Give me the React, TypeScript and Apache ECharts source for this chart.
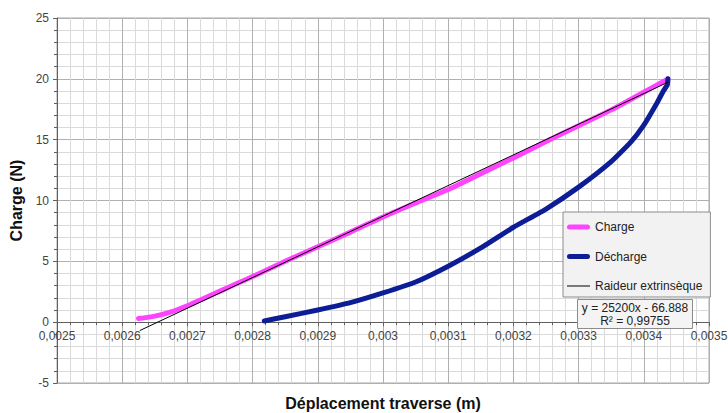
import React, { useEffect, useRef } from "react";
import * as echarts from "echarts";

// Charge (loading) curve: [displacement (m), load (N)]
const chargeX = [0.002625, 0.00265, 0.002675, 0.0027, 0.002725, 0.00275, 0.002775, 0.0028, 0.00285, 0.0029, 0.00295, 0.003, 0.00305, 0.0031, 0.00315, 0.0032, 0.00325, 0.0033, 0.00335, 0.0034, 0.003437];
const chargeY = [0.3, 0.5, 0.85, 1.35, 1.95, 2.55, 3.15, 3.75, 5.0, 6.2, 7.4, 8.65, 9.8, 10.9, 12.2, 13.5, 14.85, 16.15, 17.45, 18.9, 20.0];

// Décharge (unloading) curve
const dechargeX = [0.002818, 0.00285, 0.0029, 0.00295, 0.003, 0.00305, 0.0031, 0.00315, 0.0032, 0.00325, 0.0033, 0.00335, 0.00338, 0.0034, 0.00342, 0.00343, 0.003436, 0.003437];
const dechargeY = [0.1, 0.45, 1.0, 1.6, 2.4, 3.3, 4.6, 6.1, 7.8, 9.3, 11.1, 13.2, 14.8, 16.2, 18.0, 19.0, 19.5, 20.0];

// Raideur extrinsèque (linear trend) endpoints
const trendX = [0.002627, 0.003437];
const trendY = [-0.69, 19.72];

const equationLines = ["y = 25200x - 66.888", "R² = 0,99755"];
const seriesNames = ["Charge", "Décharge", "Raideur extrinsèque"];

const FONT = "Liberation Sans, Arial, sans-serif";

const zip = (xs: number[], ys: number[]) => xs.map((x, i) => [x, ys[i]]);

const THICK_ICON = "path://M2.5,0 H20.5 A2.5,2.5 0 0 1 20.5,5 H2.5 A2.5,2.5 0 0 1 2.5,0 Z";
const THIN_ICON = "path://M0,0 H23 V1 H0 Z";

export default function App() {
  const ref = useRef<HTMLDivElement>(null);
  useEffect(() => {
    document.body.style.margin = "0";
    if (!ref.current) return;
    const chart = echarts.init(ref.current, null, { renderer: "svg" });
    const gridT = 18, gridB = 30, plotH = 413 - gridT - gridB;
    const yMin = -5, yMax = 25;
    const zeroOffset = -(plotH * (0 - yMin)) / (yMax - yMin);
    chart.setOption({
      animation: false,
      backgroundColor: "#ffffff",
      textStyle: { fontFamily: FONT },
      grid: {
        left: 57, top: gridT, right: 19, bottom: gridB,
        containLabel: false,
        outerBoundsMode: "none",
        show: true, borderColor: "#a6a6a6", borderWidth: 1, backgroundColor: "transparent",
      },
      xAxis: {
        type: "value",
        min: 0.0025, max: 0.0035, interval: 0.0001,
        position: "bottom",
        offset: zeroOffset,
        name: "Déplacement traverse (m)",
        nameLocation: "middle",
        nameGap: 73,
        nameTextStyle: { fontFamily: FONT, fontSize: 16, fontWeight: "bold", color: "#111" },
        axisLine: { show: true, onZero: false, lineStyle: { color: "#606060", width: 1 } },
        axisTick: { show: true, length: 4, lineStyle: { color: "#606060" } },
        minorTick: { show: true, splitNumber: 5, length: 3, lineStyle: { color: "#606060" } },
        axisLabel: {
          fontFamily: FONT, fontSize: 12, color: "#444", margin: 8,
          formatter: (v: number) => String(Number(v.toFixed(6))).replace(".", ","),
        },
        splitLine: { show: true, lineStyle: { color: "#b0b0b0", width: 1 } },
        minorSplitLine: { show: true, lineStyle: { color: "#dadada", width: 1 } },
      },
      yAxis: {
        type: "value",
        min: yMin, max: yMax, interval: 5,
        name: "Charge (N)",
        nameLocation: "middle",
        nameGap: 30,
        nameTextStyle: { fontFamily: FONT, fontSize: 16, fontWeight: "bold", color: "#111" },
        axisLine: { show: true, onZero: false, lineStyle: { color: "#606060", width: 1 } },
        axisTick: { show: true, length: 4, lineStyle: { color: "#606060" } },
        minorTick: { show: true, splitNumber: 5, length: 3, lineStyle: { color: "#606060" } },
        axisLabel: { fontFamily: FONT, fontSize: 12, color: "#444", margin: 8 },
        splitLine: { show: true, lineStyle: { color: "#b0b0b0", width: 1 } },
        minorSplitLine: { show: true, lineStyle: { color: "#dadada", width: 1 } },
      },
      legend: {
        orient: "vertical",
        left: 563, top: 212,
        width: 140,
        backgroundColor: "#f2f2f2",
        borderColor: "#8c8c8c",
        borderWidth: 1,
        padding: [9, 8, 5, 4],
        itemGap: 17.5,
        itemWidth: 23,
        itemHeight: 14,
        textStyle: { fontFamily: FONT, fontSize: 12, color: "#222" },
        data: [
          { name: seriesNames[0], icon: THICK_ICON },
          { name: seriesNames[1], icon: THICK_ICON },
          { name: seriesNames[2], icon: THIN_ICON },
        ],
      },
      series: [
        {
          name: seriesNames[0], type: "line", data: zip(chargeX, chargeY),
          showSymbol: false, symbol: "none", smooth: 0.25,
          lineStyle: { color: "#ff44ff", width: 5, cap: "round", join: "round" }, itemStyle: { color: "#ff44ff" },
          z: 2,
        },
        {
          name: seriesNames[1], type: "line", data: zip(dechargeX, dechargeY),
          showSymbol: false, symbol: "none", smooth: 0.15,
          lineStyle: { color: "#0d1d95", width: 5, cap: "round", join: "round" }, itemStyle: { color: "#0d1d95" },
          z: 3,
        },
        {
          name: seriesNames[2], type: "line", data: zip(trendX, trendY),
          showSymbol: false, symbol: "none",
          lineStyle: { color: "#000000", width: 1 }, itemStyle: { color: "#000000" },
          z: 4,
        },
      ],
      graphic: [
        {
          type: "group", left: 577, top: 299, z: 100, zlevel: 1,
          children: [
            { type: "rect", z: 100, zlevel: 1, shape: { x: 0, y: 0, width: 115, height: 29 }, style: { fill: "#f4f4f4", stroke: "#8c8c8c", lineWidth: 1 } },
            { type: "text", z: 101, zlevel: 1, x: 57.5, y: 8, style: { text: equationLines[0], font: `12px ${FONT}`, fill: "#222", textAlign: "center", textVerticalAlign: "middle" } },
            { type: "text", z: 101, zlevel: 1, x: 57.5, y: 21, style: { text: equationLines[1], font: `12px ${FONT}`, fill: "#222", textAlign: "center", textVerticalAlign: "middle" } },
          ],
        },
      ],
    });
    return () => chart.dispose();
  }, []);
  return <div ref={ref} style={{ width: 728, height: 413 }} />;
}
